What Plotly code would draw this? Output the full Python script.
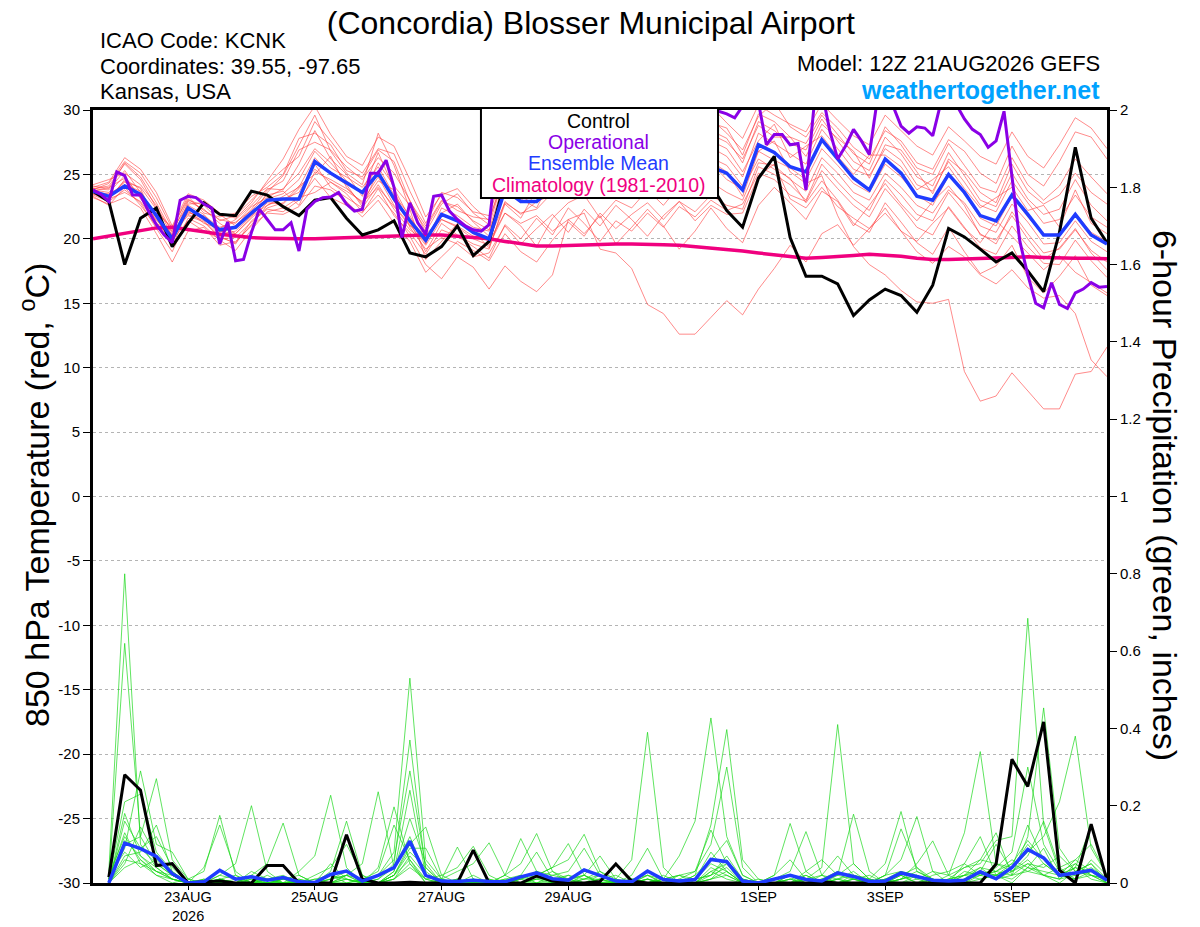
import pandas as pd
import plotly.graph_objs as go
from plotly.subplots import make_subplots

# GEFS run 12Z 21AUG2026: members are 6-hourly, operational GFS is 3-hourly
start = pd.Timestamp("2026-08-21 12:00")
end = pd.Timestamp("2026-09-06 12:00")
times_6h = pd.date_range(start, periods=65, freq="6h")
times_3h = pd.date_range(start, periods=129, freq="3h")
precip_times = pd.date_range("2026-08-21 18:00", periods=64, freq="6h")

# ---- 850 hPa temperature (deg C) ----
control_temp = [23.7, 22.9, 18.0, 21.6, 22.4, 19.4, 21.2, 22.8, 21.9, 21.8,
                23.7, 23.4, 22.5, 21.8, 23.0, 23.2, 21.6, 20.3, 20.7, 21.4,
                18.9, 18.6, 19.4, 21.0, 18.7, 19.8, 24.5, 26.0, 25.2, 26.8,
                27.5, 26.4, 27.9, 28.3, 27.0, 28.6, 27.8, 26.9, 27.4, 24.2,
                22.2, 20.9, 24.7, 26.4, 20.1, 17.1, 17.1, 16.5, 14.05, 15.25,
                16.1, 15.6, 14.3, 16.4, 20.8, 20.15, 19.2, 18.2, 18.9, 17.5,
                15.9, 20.5, 27.1, 21.6, 19.7]

mean_temp = [23.7, 23.3, 24.1, 23.45, 21.8, 20.0, 22.4, 21.6, 20.7, 20.9,
             22.0, 23.0, 23.1, 23.1, 26.0, 25.1, 24.35, 23.6, 25.1, 23.1,
             21.4, 19.9, 21.9, 21.4, 20.5, 20.0, 23.8, 22.9, 22.9, 24.0,
             24.5, 25.0, 25.3, 25.5, 25.5, 25.8, 26.0, 25.8, 25.5, 25.6,
             25.1, 23.8, 27.3, 26.7, 25.6, 25.2, 27.7, 26.2, 24.7, 23.8,
             26.2, 25.1, 23.3, 23.0, 25.0, 23.6, 21.8, 21.4, 23.4, 21.9,
             20.3, 20.3, 21.9, 20.3, 19.6]

climo_temp = [20.0, 20.2, 20.4, 20.6, 20.85, 20.9, 20.75, 20.55, 20.35, 20.2,
              20.1, 20.05, 20.0, 20.0, 20.0, 20.05, 20.1, 20.1, 20.15, 20.2,
              20.25, 20.3, 20.3, 20.2, 20.1, 20.0, 19.8, 19.6, 19.45, 19.45,
              19.5, 19.55, 19.6, 19.6, 19.6, 19.6, 19.55, 19.5, 19.4, 19.3,
              19.2, 19.05, 18.9, 18.75, 18.6, 18.5, 18.55, 18.6, 18.7, 18.8,
              18.75, 18.65, 18.5, 18.4, 18.4, 18.45, 18.5, 18.55, 18.6, 18.6,
              18.55, 18.5, 18.5, 18.5, 18.45]

oper_temp = [23.8, 23.45, 22.9, 25.2, 24.9, 23.4, 23.4, 22.15, 21.1, 20.3,
             19.7, 23.0, 23.3, 23.2, 22.7, 22.4, 19.6, 21.3, 18.3, 18.4,
             20.5, 22.3, 21.5, 20.7, 20.7, 21.25, 19.05, 22.3, 22.9, 23.2,
             23.25, 23.6, 22.7, 22.15, 22.3, 25.1, 25.1, 26.1, 24.0, 20.1,
             22.8, 21.25, 20.35, 23.3, 23.4, 22.15, 21.5, 21.0, 20.7, 20.6,
             21.1, 26.5, 28.0, 27.2, 28.5, 29.0, 27.8, 28.4, 29.3, 28.7,
             27.9, 28.6, 29.5, 30.4, 30.8, 30.2, 29.6, 30.5, 31.0, 30.6,
             30.1, 30.7, 31.2, 30.5, 30.3, 30.9, 31.3, 30.6, 30.2, 29.9,
             29.7, 29.4, 30.3, 31.0, 30.6, 27.3, 28.1, 28.1, 27.3, 27.4,
             23.8, 30.2, 31.5, 28.4, 26.2, 27.2, 28.5, 27.6, 26.55, 30.8,
             31.2, 30.3, 28.75, 28.2, 28.7, 28.6, 28.0, 30.5, 31.2, 30.4,
             29.3, 28.5, 28.1, 27.1, 27.6, 29.9, 24.9, 19.8, 17.2, 15.0,
             14.65, 16.6, 14.9, 14.6, 15.8, 16.1, 16.6, 16.25, 16.3]

member_temp = [
    [23.9, 24.1, 25.8, 24.6, 22.4, 19.6, 22.9, 22.3, 21.2, 20.4,
     21.7, 23.6, 24.9, 27.2, 29.6, 26.8, 25.1, 24.2, 28.2, 25.7,
     22.3, 18.4, 19.8, 21.2, 20.6, 19.3, 22.7, 21.6, 23.8, 24.6,
     25.9, 26.7, 27.3, 26.2, 27.8, 28.3, 26.9, 27.4, 28.1, 26.3,
     25.7, 24.1, 26.8, 27.6, 25.2, 24.3, 24.9, 21.8, 19.4, 18.0,
     17.2, 16.0, 15.1, 15.0, 15.3, 9.7, 7.4, 7.8, 9.6, 8.2,
     6.8, 6.8, 9.5, 9.7, 11.6],
    [23.5, 23.0, 24.6, 23.9, 21.2, 20.6, 21.9, 21.4, 20.2, 19.6,
     21.4, 22.4, 22.8, 24.1, 25.0, 26.4, 24.0, 22.7, 24.5, 23.8,
     20.9, 19.2, 20.1, 19.6, 18.6, 18.9, 21.0, 19.6, 20.8, 21.9,
     20.5, 22.3, 21.0, 22.6, 21.5, 20.2, 21.8, 22.9, 21.4, 22.6,
     21.9, 22.0, 24.9, 25.8, 23.1, 22.4, 24.0, 22.5, 21.6, 20.8,
     22.4, 20.6, 19.0, 18.1, 19.4, 18.6, 17.2, 16.5, 17.6, 16.2,
     15.4, 15.6, 14.2, 10.6, 9.3],
    [23.8, 23.6, 24.9, 23.1, 21.5, 20.3, 22.0, 21.8, 20.9, 21.3,
     22.2, 23.4, 23.7, 22.6, 25.2, 24.6, 23.9, 22.8, 24.0, 22.5,
     21.0, 20.4, 21.5, 20.9, 20.0, 19.5, 22.0, 21.2, 21.8, 20.6,
     21.5, 22.0, 19.2, 18.9, 17.7, 14.9, 14.2, 12.6, 12.6, 13.9,
     15.2, 14.1, 16.1, 17.7, 19.5, 18.2, 20.4, 21.1, 19.5, 20.8,
     22.0, 20.6, 19.8, 21.2, 22.4, 20.8, 19.7, 21.4, 20.2, 18.9,
     17.6, 18.7, 17.4, 16.6, 15.8],
    [23.4, 22.9, 23.8, 22.8, 20.8, 19.0, 21.6, 21.0, 19.9, 19.1,
     20.7, 22.1, 22.4, 23.2, 23.6, 24.4, 23.5, 22.1, 23.4, 22.0,
     20.2, 18.0, 16.9, 18.6, 17.8, 16.1, 17.9, 16.7, 15.9, 17.2,
     21.5, 20.4, 21.8, 19.6, 20.9, 22.3, 21.0, 19.2, 20.6, 22.4,
     20.8, 19.7, 22.6, 24.0, 22.8, 21.5, 23.7, 22.9, 21.0, 22.6,
     24.3, 22.7, 21.4, 22.9, 24.1, 22.6, 20.3, 19.9, 21.8, 20.0,
     18.4, 19.3, 20.8, 18.9, 17.6],
    [24.0, 24.4, 26.3, 25.4, 23.6, 21.0, 23.5, 23.0, 22.0, 21.6,
     22.8, 24.5, 26.2, 28.5, 30.3, 28.1, 26.4, 25.7, 27.9, 27.2,
     24.6, 21.7, 23.4, 23.9, 22.5, 21.4, 25.3, 24.8, 26.1, 27.2,
     28.0, 27.4, 28.9, 29.6, 28.4, 29.7, 30.4, 29.1, 28.6, 29.3,
     28.2, 26.9, 29.5, 30.6, 28.7, 27.9, 29.8, 28.6, 27.1, 26.2,
     28.4, 27.6, 25.9, 25.4, 27.7, 26.8, 25.1, 24.3, 27.2, 25.0,
     24.1, 26.0, 28.3, 27.9, 26.2],
    [23.6, 23.3, 24.4, 24.0, 22.3, 20.7, 22.6, 21.9, 20.5, 20.9,
     21.9, 23.1, 23.5, 24.6, 26.8, 25.5, 24.8, 24.0, 25.6, 23.4,
     21.8, 19.6, 22.4, 21.8, 20.9, 20.6, 23.9, 23.1, 22.4, 24.8,
     25.3, 26.0, 25.2, 26.6, 25.7, 26.9, 27.5, 26.3, 26.0, 27.1,
     26.4, 24.8, 28.2, 27.4, 26.6, 25.8, 28.5, 27.0, 25.4, 24.9,
     27.0, 26.1, 24.2, 23.7, 26.0, 24.4, 22.6, 22.1, 24.5, 22.8,
     21.2, 21.5, 23.4, 21.7, 20.9],
    [23.9, 23.8, 25.3, 23.6, 21.9, 19.8, 22.2, 21.2, 20.8, 21.5,
     22.6, 23.9, 23.8, 25.8, 28.4, 26.2, 25.0, 23.3, 25.9, 24.1,
     22.6, 20.8, 22.9, 22.5, 21.4, 20.7, 24.6, 23.5, 24.0, 25.7,
     26.4, 27.2, 26.9, 27.9, 26.8, 28.0, 28.7, 27.6, 27.2, 28.4,
     27.8, 25.9, 29.1, 28.4, 27.4, 26.9, 29.3, 27.6, 26.0, 25.3,
     27.9, 26.6, 24.8, 24.1, 26.7, 24.9, 23.0, 22.5, 25.1, 23.1,
     21.9, 22.3, 24.6, 22.6, 21.4],
    [23.5, 23.1, 23.6, 22.9, 21.2, 20.1, 22.1, 21.5, 20.6, 20.4,
     21.6, 22.8, 22.7, 23.9, 25.4, 24.4, 23.7, 22.9, 24.8, 22.6,
     21.1, 19.5, 21.5, 21.0, 20.2, 20.0, 22.8, 22.0, 22.3, 23.6,
     24.2, 24.9, 24.1, 25.4, 24.7, 25.8, 26.3, 25.4, 25.0, 26.0,
     25.2, 23.3, 26.8, 26.1, 25.5, 24.6, 27.0, 25.7, 24.3, 23.6,
     25.8, 24.8, 23.4, 22.6, 24.9, 23.5, 21.6, 21.0, 23.3, 21.7,
     20.3, 20.4, 22.0, 20.5, 19.8],
    [23.2, 22.7, 23.2, 22.4, 20.4, 18.2, 20.6, 20.9, 19.5, 19.8,
     21.0, 22.0, 21.9, 22.5, 24.1, 23.8, 22.9, 21.7, 23.0, 21.2,
     19.8, 17.4, 18.6, 19.8, 19.1, 18.3, 20.4, 19.0, 18.2, 19.9,
     21.3, 20.2, 22.0, 20.8, 21.9, 22.8, 21.5, 22.9, 22.1, 23.4,
     22.6, 22.3, 25.6, 25.0, 24.2, 23.0, 25.8, 24.4, 23.1, 22.2,
     24.6, 23.4, 21.9, 21.4, 23.6, 22.1, 20.4, 19.6, 22.1, 20.4,
     18.9, 19.2, 20.7, 19.1, 18.2],
    [24.1, 23.9, 25.9, 24.8, 22.8, 20.5, 23.0, 22.6, 21.4, 21.8,
     23.0, 24.3, 25.4, 26.4, 29.1, 27.6, 26.0, 25.1, 27.0, 26.6,
     23.7, 21.2, 23.6, 23.2, 22.1, 21.8, 25.7, 25.2, 25.6, 27.6,
     28.8, 28.3, 29.5, 30.5, 29.3, 30.6, 29.8, 30.4, 29.7, 30.3,
     29.0, 27.8, 30.4, 29.6, 28.9, 28.3, 30.5, 29.2, 28.0, 27.3,
     29.6, 28.4, 27.2, 26.5, 28.7, 27.6, 26.4, 25.8, 28.3, 26.4,
     25.5, 27.3, 29.4, 28.6, 27.0],
    [23.7, 24.0, 24.7, 23.3, 22.0, 20.9, 23.1, 22.2, 21.5, 21.2,
     22.5, 23.2, 23.9, 25.1, 27.0, 25.9, 24.5, 23.6, 26.7, 23.9,
     21.6, 20.1, 22.0, 22.7, 21.3, 20.2, 24.2, 22.8, 23.5, 24.2,
     26.1, 25.5, 26.5, 25.8, 27.1, 26.5, 27.9, 28.2, 26.7, 27.6,
     27.0, 25.2, 27.6, 28.9, 26.3, 27.2, 28.0, 26.4, 25.0, 26.5,
     26.5, 25.6, 23.8, 24.6, 25.6, 23.9, 22.4, 23.2, 24.0, 22.2,
     22.6, 20.9, 23.8, 21.2, 20.4],
    [23.6, 23.5, 24.2, 23.7, 21.7, 19.4, 22.3, 21.7, 20.3, 20.6,
     21.8, 22.6, 23.3, 24.0, 26.3, 25.0, 24.2, 22.5, 25.3, 22.9,
     21.3, 19.0, 21.2, 20.3, 19.6, 19.2, 22.9, 21.9, 22.9, 23.4,
     24.7, 25.5, 24.6, 25.9, 25.1, 26.2, 25.4, 26.8, 25.6, 25.9,
     24.6, 23.9, 26.2, 25.4, 24.7, 22.8, 24.5, 23.0, 21.2, 20.5,
     22.8, 21.3, 19.7, 18.8, 20.9, 19.0, 17.3, 17.9, 19.5, 17.0,
     15.8, 17.1, 18.7, 16.4, 15.6],
    [24.2, 24.6, 25.1, 24.2, 22.6, 20.2, 22.7, 22.8, 21.9, 21.0,
     22.3, 23.8, 24.5, 26.9, 27.5, 26.9, 25.6, 24.6, 26.3, 25.1,
     23.0, 20.5, 22.7, 23.5, 22.0, 21.1, 25.0, 24.1, 24.6, 26.0,
     27.3, 26.4, 27.8, 28.5, 27.6, 28.8, 29.4, 28.5, 28.0, 29.0,
     28.6, 26.5, 29.7, 29.1, 27.9, 27.4, 29.6, 28.1, 26.6, 25.8,
     28.7, 27.3, 25.5, 25.0, 27.4, 25.7, 24.0, 23.6, 26.3, 24.2,
     23.0, 24.1, 26.2, 24.8, 23.5],
    [23.3, 22.6, 24.0, 22.6, 21.0, 19.9, 21.4, 20.6, 20.0, 20.1,
     21.3, 22.3, 22.1, 23.0, 24.7, 23.2, 22.6, 22.0, 23.9, 21.8,
     20.5, 18.8, 20.7, 20.2, 19.4, 18.5, 21.1, 20.0, 21.6, 20.3,
     22.4, 21.2, 19.8, 21.4, 20.6, 22.0, 20.9, 22.5, 21.7, 23.0,
     22.2, 22.7, 25.1, 24.6, 23.4, 22.9, 25.3, 23.9, 22.6, 21.7,
     23.9, 22.5, 20.9, 20.3, 22.5, 20.9, 19.3, 18.8, 21.0, 19.4,
     18.1, 18.0, 19.9, 18.3, 17.0],
    [23.8, 24.3, 26.0, 25.1, 23.2, 20.8, 23.3, 22.0, 21.7, 22.0,
     23.3, 24.0, 25.0, 27.8, 28.2, 27.3, 25.3, 24.8, 26.9, 26.0,
     22.9, 21.0, 23.0, 22.2, 21.7, 21.5, 24.9, 24.4, 25.2, 26.8,
     27.0, 28.0, 27.6, 28.9, 28.0, 29.2, 28.6, 29.5, 28.9, 28.1,
     27.5, 26.2, 28.8, 27.9, 27.9, 26.4, 28.9, 27.8, 26.8, 24.7,
     27.3, 26.9, 25.2, 23.5, 26.2, 25.2, 23.6, 22.8, 25.8, 23.7,
     22.7, 23.4, 25.1, 23.6, 22.7],
    [23.5, 23.2, 24.5, 23.2, 21.4, 20.4, 21.8, 21.3, 20.1, 19.7,
     21.1, 22.6, 23.1, 23.6, 25.8, 24.0, 23.2, 22.4, 24.2, 22.3,
     20.7, 19.8, 21.8, 21.4, 20.4, 19.8, 22.0, 21.0, 19.4, 21.6,
     22.8, 23.4, 21.6, 23.0, 22.4, 23.8, 22.6, 24.1, 23.3, 24.4,
     23.6, 23.0, 25.9, 25.7, 24.6, 23.7, 26.3, 25.1, 23.6, 23.0,
     25.1, 24.0, 22.6, 22.0, 23.8, 22.8, 21.0, 20.5, 22.7, 21.3,
     19.6, 19.7, 21.4, 19.8, 19.0],
]

# ---- 6-hour precipitation (inches) ----
control_precip = [0.015, 0.28, 0.24, 0.045, 0.05, 0.0, 0.003, 0.005,
                  0.0, 0.0, 0.045, 0.045, 0.0, 0.0, 0.0, 0.125,
                  0.01, 0.0, 0.0, 0.002, 0.0, 0.0, 0.0, 0.085,
                  0.0, 0.0, 0.0, 0.018, 0.005, 0.0, 0.0, 0.004,
                  0.049, 0.005, 0.0, 0.0, 0.0, 0.0, 0.0, 0.0,
                  0.0, 0.0, 0.0, 0.0, 0.0, 0.003, 0.0, 0.0,
                  0.0, 0.0, 0.0, 0.0, 0.0, 0.0, 0.0, 0.0,
                  0.049, 0.32, 0.25, 0.417, 0.033, 0.0, 0.152, 0.007]

mean_precip = [0.0, 0.103, 0.089, 0.069, 0.024, 0.0, 0.003, 0.033,
               0.01, 0.016, 0.007, 0.014, 0.003, 0.001, 0.022, 0.031,
               0.005, 0.02, 0.04, 0.108, 0.02, 0.005, 0.004, 0.007,
               0.004, 0.003, 0.016, 0.026, 0.011, 0.007, 0.034, 0.02,
               0.005, 0.003, 0.031, 0.009, 0.005, 0.009, 0.061, 0.055,
               0.005, 0.0, 0.009, 0.02, 0.009, 0.005, 0.026, 0.017,
               0.004, 0.005, 0.026, 0.016, 0.007, 0.005, 0.007, 0.029,
               0.011, 0.04, 0.087, 0.065, 0.02, 0.026, 0.033, 0.007]

member_precip = [
    [0.03, 0.80, 0.10, 0.04, 0.01, 0, 0, 0.01,
     0, 0, 0, 0.01, 0, 0, 0.02, 0.03,
     0, 0, 0.03, 0.24, 0.02, 0, 0, 0,
     0, 0, 0.01, 0.03, 0, 0, 0.02, 0,
     0, 0.01, 0.02, 0, 0, 0.01, 0.05, 0.03,
     0, 0, 0, 0.01, 0.02, 0, 0.01, 0.03,
     0, 0.02, 0.14, 0.04, 0, 0, 0.01, 0.03,
     0.02, 0.04, 0.10, 0.05, 0.02, 0.04, 0.146, 0.01],
    [0.01, 0.62, 0.12, 0.05, 0.02, 0, 0.01, 0,
     0, 0.01, 0, 0, 0, 0, 0, 0.02,
     0.01, 0.03, 0.15, 0.06, 0, 0, 0.01, 0,
     0, 0, 0.02, 0.08, 0.01, 0, 0, 0.02,
     0, 0, 0.01, 0, 0, 0, 0.03, 0.05,
     0, 0, 0, 0, 0.01, 0.04, 0.41, 0.05,
     0.01, 0, 0.02, 0, 0.01, 0, 0, 0.02,
     0.03, 0.06, 0.04, 0.09, 0.01, 0.02, 0.03, 0],
    [0.01, 0.21, 0.23, 0.08, 0.03, 0, 0, 0.01,
     0.02, 0, 0, 0, 0.01, 0, 0.01, 0.02,
     0, 0.02, 0.08, 0.53, 0.06, 0.01, 0, 0,
     0.01, 0, 0, 0.01, 0.03, 0.01, 0, 0,
     0, 0, 0, 0.01, 0, 0, 0.02, 0.06,
     0.01, 0, 0.02, 0.154, 0.03, 0, 0, 0.01,
     0, 0, 0.01, 0.03, 0.01, 0, 0.02, 0.06,
     0.05, 0.04, 0.15, 0.06, 0.02, 0.01, 0.03, 0.01],
    [0, 0.16, 0.09, 0.12, 0.04, 0, 0, 0,
     0, 0.03, 0.01, 0, 0, 0, 0, 0.01,
     0, 0, 0.02, 0.08, 0.04, 0, 0, 0.02,
     0, 0, 0, 0, 0, 0.02, 0.01, 0.03,
     0.01, 0.06, 0.39, 0.04, 0, 0, 0.01, 0.02,
     0, 0, 0, 0.02, 0, 0, 0.02, 0.01,
     0, 0.01, 0, 0, 0.02, 0.03, 0.05, 0.12,
     0.02, 0, 0.04, 0.02, 0, 0.03, 0.05, 0],
    [0.02, 0.12, 0.06, 0.03, 0.01, 0, 0, 0.01,
     0, 0, 0.01, 0.02, 0, 0, 0.05, 0.01,
     0, 0, 0.01, 0.04, 0.01, 0, 0, 0,
     0, 0.02, 0.115, 0.03, 0, 0, 0.01, 0.01,
     0, 0, 0.02, 0.01, 0.07, 0.16, 0.427, 0.12,
     0.02, 0, 0, 0.01, 0, 0, 0, 0.02,
     0.01, 0, 0, 0.02, 0, 0, 0.01, 0.04,
     0.01, 0.03, 0.07, 0.16, 0.04, 0.01, 0.02, 0],
    [0.01, 0.09, 0.29, 0.10, 0.08, 0.01, 0, 0,
     0, 0, 0, 0.01, 0.02, 0, 0, 0.01,
     0, 0.01, 0.05, 0.37, 0.03, 0, 0, 0.01,
     0, 0, 0, 0.02, 0, 0.01, 0.02, 0.07,
     0.01, 0, 0, 0, 0, 0.01, 0.02, 0.04,
     0, 0, 0.01, 0, 0.01, 0.02, 0.07, 0.02,
     0, 0, 0, 0.01, 0.03, 0.02, 0.04, 0.05,
     0.11, 0.12, 0.685, 0.15, 0.03, 0.02, 0.04, 0.01],
    [0, 0.05, 0.145, 0.07, 0.02, 0, 0, 0.02,
     0.01, 0, 0, 0, 0, 0.01, 0.02, 0,
     0, 0.04, 0.197, 0.05, 0.01, 0, 0, 0,
     0, 0, 0.01, 0, 0.02, 0.03, 0.09, 0.02,
     0, 0, 0.01, 0, 0.02, 0, 0.03, 0.01,
     0, 0.01, 0, 0, 0.03, 0.06, 0.02, 0.178,
     0.03, 0, 0.01, 0.02, 0, 0, 0, 0.01,
     0.02, 0.05, 0.03, 0.02, 0.04, 0.06, 0.10, 0.02],
    [0.01, 0.10, 0.12, 0.27, 0.06, 0.01, 0, 0,
     0, 0.02, 0, 0, 0.01, 0, 0, 0,
     0.01, 0, 0.02, 0.10, 0.145, 0.02, 0, 0,
     0, 0.01, 0.02, 0, 0, 0, 0, 0.01,
     0.02, 0, 0, 0.01, 0.02, 0.03, 0.137, 0.05,
     0.01, 0, 0, 0, 0, 0.01, 0, 0,
     0, 0.01, 0.03, 0.02, 0, 0.01, 0.02, 0.03,
     0.10, 0.03, 0.05, 0.02, 0.01, 0.05, 0.02, 0],
    [0, 0.07, 0.08, 0.15, 0.03, 0, 0.01, 0,
     0, 0, 0.01, 0, 0, 0.02, 0.04, 0.10,
     0.02, 0, 0.01, 0.07, 0.02, 0.01, 0.093, 0.01,
     0, 0, 0, 0.01, 0.01, 0.02, 0, 0,
     0, 0.01, 0, 0, 0, 0.02, 0.15, 0.397,
     0.06, 0.01, 0, 0, 0.01, 0, 0, 0.01,
     0.02, 0, 0, 0, 0.01, 0, 0.03, 0.02,
     0.04, 0.08, 0.30, 0.10, 0.03, 0.05, 0.02, 0.01],
    [0, 0.04, 0.06, 0.02, 0, 0.01, 0.03, 0.175,
     0.02, 0, 0, 0, 0, 0.01, 0, 0,
     0.01, 0.02, 0.06, 0.29, 0.04, 0, 0.01, 0,
     0.01, 0, 0, 0.02, 0, 0.01, 0.02, 0,
     0, 0.02, 0.09, 0.01, 0, 0, 0.01, 0.03,
     0, 0, 0, 0.02, 0.01, 0, 0.01, 0.02,
     0.01, 0.05, 0.185, 0.03, 0.01, 0, 0.02, 0.01,
     0.02, 0.01, 0.04, 0.03, 0.02, 0.06, 0.03, 0.01],
    [0.01, 0.13, 0.05, 0.03, 0.02, 0, 0.04, 0.15,
     0.03, 0, 0, 0.01, 0, 0, 0.01, 0.03,
     0, 0, 0.03, 0.167, 0.05, 0, 0, 0.01,
     0, 0.01, 0, 0.02, 0.04, 0.06, 0.126, 0.03,
     0, 0, 0.01, 0, 0, 0.01, 0.02, 0.07,
     0.01, 0, 0, 0.01, 0, 0.01, 0.02, 0.05,
     0.01, 0, 0.02, 0.04, 0.01, 0, 0.05, 0.02,
     0.01, 0.02, 0.12, 0.453, 0.09, 0.03, 0.05, 0.01],
    [0, 0.18, 0.07, 0.04, 0.01, 0, 0, 0.02,
     0.05, 0.20, 0.03, 0, 0, 0, 0.02, 0.01,
     0, 0, 0.02, 0.09, 0.09, 0.01, 0, 0,
     0, 0.02, 0.05, 0.128, 0.03, 0, 0, 0.01,
     0, 0, 0, 0.02, 0, 0, 0.01, 0.05,
     0, 0, 0.02, 0.06, 0.01, 0, 0, 0,
     0, 0.02, 0.03, 0.01, 0, 0.02, 0.13, 0.34,
     0.05, 0.03, 0.06, 0.02, 0.01, 0.04, 0.01, 0],
    [0.01, 0.10, 0.09, 0.05, 0.02, 0, 0, 0.01,
     0, 0.02, 0.05, 0.155, 0.02, 0, 0, 0.02,
     0, 0.01, 0.04, 0.12, 0.02, 0, 0.01, 0,
     0, 0, 0.01, 0.02, 0.04, 0.102, 0.02, 0,
     0.01, 0, 0.02, 0, 0.01, 0, 0.04, 0.02,
     0, 0, 0.01, 0.02, 0, 0.01, 0.03, 0.01,
     0, 0.02, 0.06, 0.172, 0.03, 0, 0.01, 0.02,
     0.03, 0.02, 0.05, 0.04, 0.07, 0.03, 0.02, 0.01],
    [0.02, 0.08, 0.04, 0.06, 0.02, 0, 0, 0,
     0, 0, 0.01, 0, 0.03, 0.07, 0.227, 0.04,
     0, 0, 0.01, 0.05, 0, 0.01, 0.03, 0.05,
     0.104, 0.02, 0, 0, 0.01, 0, 0, 0,
     0, 0.01, 0, 0.01, 0, 0.02, 0.06, 0.11,
     0.02, 0, 0, 0, 0.02, 0, 0.01, 0,
     0.01, 0, 0.01, 0.05, 0.109, 0.02, 0, 0.03,
     0.02, 0.04, 0.08, 0.12, 0.21, 0.38, 0.09, 0.02],
    [0, 0.06, 0.05, 0.02, 0.01, 0, 0, 0,
     0.01, 0, 0.02, 0, 0, 0, 0.03, 0.16,
     0.02, 0, 0.02, 0.06, 0.01, 0.02, 0.04, 0.095,
     0.02, 0, 0, 0.01, 0, 0, 0.01, 0.02,
     0, 0, 0.01, 0, 0.01, 0.03, 0.10, 0.30,
     0.04, 0, 0, 0, 0, 0.02, 0.01, 0,
     0, 0, 0.01, 0.02, 0, 0.01, 0.04, 0.06,
     0.13, 0.02, 0.03, 0.05, 0.02, 0.01, 0.06, 0.02],
    [0.01, 0.11, 0.07, 0.03, 0.01, 0, 0, 0.01,
     0, 0.01, 0, 0, 0, 0, 0.01, 0.02,
     0.05, 0.236, 0.04, 0.10, 0.02, 0, 0, 0.01,
     0, 0, 0.01, 0.03, 0.02, 0.01, 0, 0.01,
     0, 0, 0, 0.01, 0.02, 0.01, 0.08, 0.03,
     0, 0, 0.01, 0.03, 0.133, 0.02, 0, 0.01,
     0, 0.01, 0.02, 0, 0, 0.01, 0.02, 0.04,
     0.03, 0.05, 0.11, 0.06, 0.02, 0.04, 0.03, 0.01],
]

# axis labels
date_ticks = ["2026-08-23", "2026-08-25", "2026-08-27", "2026-08-29",
              "2026-09-01", "2026-09-03", "2026-09-05"]
date_labels = ["23AUG<br>2026", "25AUG", "27AUG", "29AUG", "1SEP", "3SEP", "5SEP"]
temp_ticks = [-30, -25, -20, -15, -10, -5, 0, 5, 10, 15, 20, 25, 30]
precip_ticks = [0, 0.2, 0.4, 0.6, 0.8, 1, 1.2, 1.4, 1.6, 1.8, 2]

RED = "rgba(255,60,60,0.75)"
GREEN = "rgba(20,215,20,0.85)"
BLACK = "black"
PURPLE = "#8a00e6"
BLUE = "#1f3cff"
PINK = "#f0007f"
FONT = "Liberation Sans, Arial, sans-serif"

fig = make_subplots(specs=[[{"secondary_y": True}]])

# ensemble members, temperature
for m in member_temp:
    fig.add_trace(go.Scatter(x=times_6h, y=m, mode="lines",
                             line=dict(color=RED, width=0.8), hoverinfo="skip"),
                  secondary_y=False)

# climatology, control, mean, operational
fig.add_trace(go.Scatter(x=times_6h, y=climo_temp, mode="lines",
                         line=dict(color=PINK, width=3.5)), secondary_y=False)
fig.add_trace(go.Scatter(x=times_6h, y=control_temp, mode="lines",
                         line=dict(color=BLACK, width=3)), secondary_y=False)
fig.add_trace(go.Scatter(x=times_6h, y=mean_temp, mode="lines",
                         line=dict(color=BLUE, width=3.5)), secondary_y=False)
fig.add_trace(go.Scatter(x=times_3h, y=oper_temp, mode="lines",
                         line=dict(color=PURPLE, width=3)), secondary_y=False)

# precipitation on the right axis
for m in member_precip:
    fig.add_trace(go.Scatter(x=precip_times, y=m, mode="lines",
                             line=dict(color=GREEN, width=0.8), hoverinfo="skip"),
                  secondary_y=True)
fig.add_trace(go.Scatter(x=precip_times, y=control_precip, mode="lines",
                         line=dict(color=BLACK, width=3)), secondary_y=True)
fig.add_trace(go.Scatter(x=precip_times, y=mean_precip, mode="lines",
                         line=dict(color=BLUE, width=3.5)), secondary_y=True)

fig.update_xaxes(range=[start, end], tickvals=date_ticks, ticktext=date_labels,
                 domain=[0, 1],
                 ticks="outside", ticklen=4, tickcolor="black",
                 ticklabelstandoff=-5,
                 showline=True, linewidth=3, linecolor="black", mirror=True,
                 showgrid=False, zeroline=False,
                 tickfont=dict(family=FONT, size=14.5, color="black"))

fig.update_yaxes(range=[-30, 30], tickvals=temp_ticks,
                 ticktext=[str(v) for v in temp_ticks],
                 ticks="outside", ticklen=7, tickcolor="black",
                 showline=True, linewidth=3, linecolor="black",
                 showgrid=True, gridcolor="#b4b4b4", griddash="dot", gridwidth=1.2,
                 zeroline=False,
                 tickfont=dict(family=FONT, size=15, color="black"),
                 secondary_y=False)

fig.update_yaxes(range=[0, 2], tickvals=precip_ticks,
                 ticktext=[f"{v:g}" for v in precip_ticks],
                 ticks="outside", ticklen=7, tickcolor="black",
                 showline=True, linewidth=3, linecolor="black",
                 showgrid=False, zeroline=False,
                 tickfont=dict(family=FONT, size=15, color="black"),
                 secondary_y=True)

# legend box drawn over the lines, like the original
fig.add_shape(type="rect", xref="paper", yref="paper",
              x0=0.3826, x1=0.6164, y0=0.8862, y1=1.0026,
              line=dict(color="black", width=2), fillcolor="white", layer="above")

legend_items = [("Control", BLACK), ("Operational", PURPLE),
                ("Ensemble Mean", BLUE), ("Climatology (1981-2010)", PINK)]
legend_y = [0.9858, 0.9586, 0.9314, 0.9030]
for (txt, col), yy in zip(legend_items, legend_y):
    fig.add_annotation(x=0.499, y=yy, xref="paper", yref="paper", text=txt,
                       showarrow=False, xanchor="center", yanchor="middle",
                       font=dict(family=FONT, size=19.5, color=col))

# station info and model text
info = [("ICAO Code: KCNK", 1.0905), ("Coordinates: 39.55, -97.65", 1.0569),
        ("Kansas, USA", 1.0233)]
for txt, yy in info:
    fig.add_annotation(x=0.0049, y=yy, xref="paper", yref="paper", text=txt,
                       showarrow=False, xanchor="left", yanchor="middle",
                       font=dict(family=FONT, size=22, color="black"))

fig.add_annotation(x=0.9951, y=1.0608, xref="paper", yref="paper",
                   text="Model: 12Z 21AUG2026 GEFS", showarrow=False,
                   xanchor="right", yanchor="middle",
                   font=dict(family=FONT, size=22, color="black"))
fig.add_annotation(x=0.9951, y=1.0262, xref="paper", yref="paper",
                   text="<b>weathertogether.net</b>", showarrow=False,
                   xanchor="right", yanchor="middle",
                   font=dict(family=FONT, size=25, color="#00a2ff"))

# axis titles
fig.add_annotation(x=-0.0572, y=0.502, xref="paper", yref="paper",
                   text="850 hPa Temperature (red, <sup>o</sup>C)", textangle=-90,
                   showarrow=False, xanchor="center", yanchor="middle",
                   font=dict(family=FONT, size=34, color="black"))
fig.add_annotation(x=1.0572, y=0.502, xref="paper", yref="paper",
                   text="6-hour Precipitation (green, inches)", textangle=90,
                   showarrow=False, xanchor="center", yanchor="middle",
                   font=dict(family=FONT, size=34, color="black"))

# the page has an 8px body margin, so the figure is made 8px smaller
fig.update_layout(
    title=dict(text="(Concordia) Blosser Municipal Airport", x=0.489, y=0.984,
               xanchor="center", yanchor="middle",
               font=dict(family=FONT, size=32, color="black")),
    width=1192, height=919,
    margin=dict(l=85, r=93, t=102, b=44, autoexpand=False),
    paper_bgcolor="white", plot_bgcolor="white",
    showlegend=False,
)

fig.write_html("out.html")
